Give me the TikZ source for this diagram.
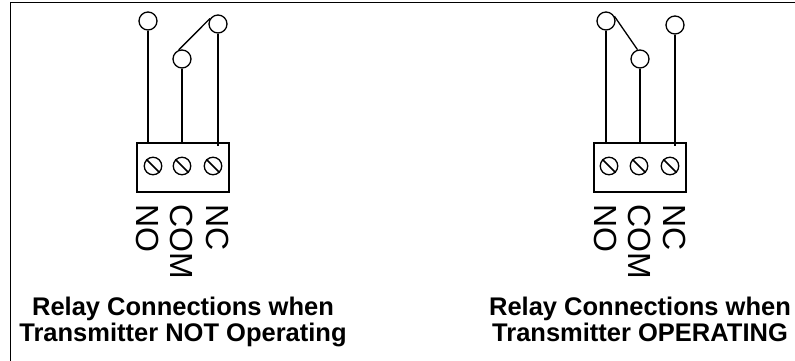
\documentclass[tikz,border=0pt]{standalone}
\usepackage{fontspec}
\setmainfont{Liberation Sans}
\begin{document}
\begin{tikzpicture}[x=1pt,y=-1pt,
  wire/.style={line width=1.3pt},
  term/.style={circle,draw,line width=1.3pt,minimum size=18pt,inner sep=0pt},
  screw/.style={circle,draw,line width=1.3pt,minimum size=17.5pt,inner sep=0pt},
  block/.style={draw,line width=1.3pt,minimum width=92pt,minimum height=49pt,inner sep=0pt},
  pinlabel/.style={rotate=-90,anchor=west,inner sep=0pt,font=\fontsize{32}{32}\selectfont},
  captext/.style={anchor=base,inner sep=0pt,font=\bfseries\fontsize{25.5}{25.5}\selectfont}]
\useasboundingbox (0,0) rectangle (795,361);
\fill[white] (0,0) rectangle (795,361);
\draw[line width=1.8pt] (10.5,361) -- (10.5,2.5) -- (795,2.5);

% ---- left panel: transmitter not operating
\node[block] (boxL) at (183,167.5) {};
\node[term] (noL) at (148,21) {};
\node[term] (comL) at (182,59) {};
\node[term] (ncL) at (218,24) {};
\draw[wire] (noL.south) -- (noL.south |- boxL.north);
\draw[wire] (comL.south) -- (comL.south |- boxL.north);
\draw[wire] (ncL.south) -- ([yshift=-4pt]ncL.south |- boxL.north);
\draw[wire] (comL.110) -- (ncL.145);
\node[screw] (s1L) at (153,166) {};
\node[screw] (s2L) at (182,166) {};
\node[screw] (s3L) at (213,166) {};
\foreach \s in {s1L,s2L,s3L} \draw[line width=1.5pt] (\s.135) -- (\s.-45);
\node[pinlabel] (lnoL) at (148,204) {NO};
\node[pinlabel] (lcomL) at (182,204) {COM};
\node[pinlabel] (lncL) at (218,204) {NC};
\node[captext] (t1L) at (183,315) {Relay Connections when};
\node[captext] (t2L) at (183,341) {Transmitter NOT Operating};

% ---- right panel: transmitter operating
\node[block] (boxR) at (640,167.5) {};
\node[term] (noR) at (606,21) {};
\node[term] (comR) at (640,59) {};
\node[term] (ncR) at (675,25) {};
\draw[wire] (noR.south) -- (noR.south |- boxR.north);
\draw[wire] (comR.south) -- (comR.south |- boxR.north);
\draw[wire] (ncR.south) -- ([yshift=-4pt]ncR.south |- boxR.north);
\draw[wire] (noR.30) -- (comR.105);
\node[screw] (s1R) at (609,166) {};
\node[screw] (s2R) at (639,166) {};
\node[screw] (s3R) at (670,166) {};
\foreach \s in {s1R,s2R,s3R} \draw[line width=1.5pt] (\s.135) -- (\s.-45);
\node[pinlabel] (lnoR) at (606,204) {NO};
\node[pinlabel] (lcomR) at (640,204) {COM};
\node[pinlabel] (lncR) at (675,204) {NC};
\node[captext] (t1R) at (640,315) {Relay Connections when};
\node[captext] (t2R) at (640,341) {Transmitter OPERATING};
\end{tikzpicture}
\end{document}
